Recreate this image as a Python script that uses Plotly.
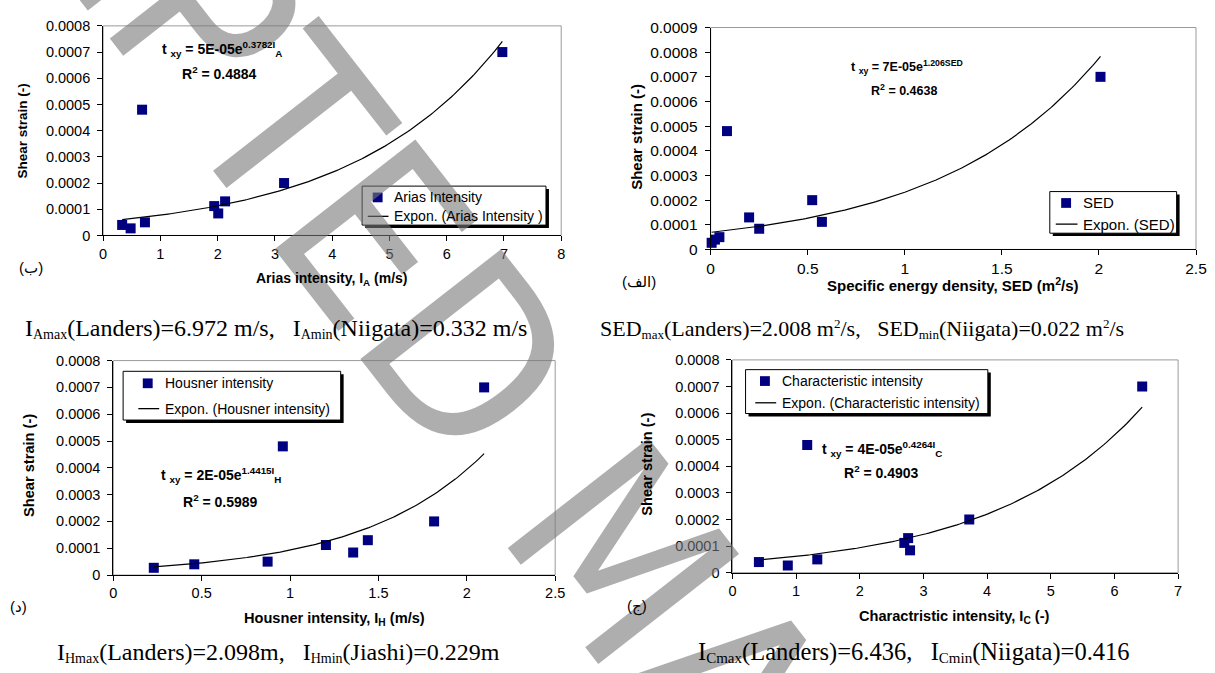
import numpy as np
import plotly.graph_objects as go

W, H = 1215, 673

# Shear strain of the nine records (same record order in every panel)
shear_strain = [4.0e-5, 2.7e-5, 4.8e-4, 5.0e-5, 1.12e-4, 8.4e-5, 1.3e-4, 2.0e-4, 7.0e-4]

# Intensity measures of the same records
arias_intensity = [0.332, 0.48, 0.68, 0.73, 1.94, 2.01, 2.13, 3.16, 6.972]
specific_energy = [0.022, 0.005, 0.084, 0.045, 0.573, 0.25, 0.198, 0.523, 2.008]
housner_intensity = [0.458, 0.229, 0.959, 0.873, 1.203, 1.357, 1.44, 1.815, 2.098]
characteristic_intensity = [0.416, 0.87, 1.175, 1.333, 2.70, 2.79, 2.76, 3.72, 6.436]

# Exponential trend lines  t_xy = a * exp(b * I)
trend_a = [5.3e-5, 6.95e-5, 2.2e-5, 4.0e-5]
trend_b = [0.3782, 1.206, 1.4415, 0.4264]
r_squared = [0.4884, 0.4638, 0.5989, 0.4903]

# Axis scales and labels
x_ranges = [[0, 8], [0, 2.5], [0, 2.5], [0, 7]]
x_dticks = [1, 0.5, 0.5, 1]
y_ranges = [[0, 0.0008], [0, 0.0009], [0, 0.0008], [0, 0.0008]]
x_titles = [
    "Arias intensity, I<sub>A</sub> (m/s)",
    "Specific energy density, SED (m<sup>2</sup>/s)",
    "Housner intensity, I<sub>H</sub> (m/s)",
    "Charactristic intensity, I<sub>C</sub> (-)",
]
y_title = "Shear strain (-)"
series_names = ["Arias Intensity", "SED", "Housner intensity", "Characteristic intensity"]
trend_names = ["Expon. (Arias Intensity )", "Expon. (SED)",
               "Expon. (Housner intensity)", "Expon. (Characteristic intensity)"]
trend_var = ["I", "SED", "I", "I"]
trend_var_sub = ["A", "", "H", "C"]
panel_tags = ["(ب)", "(الف)", "(د)", "(ج)"]

# caption pieces: (text, size-class) where 'm' = main, 'b' = subscript, 'p' = superscript
captions = [
    [("I", "m"), ("Amax", "b"), ("(Landers)=6.972 m/s,\u00a0\u00a0\u00a0I", "m"), ("Amin", "b"),
     ("(Niigata)=0.332 m/s", "m")],
    [("SED", "m"), ("max", "b"), ("(Landers)=2.008 m", "m"), ("2", "p"), ("/s,\u00a0\u00a0\u00a0SED", "m"),
     ("min", "b"), ("(Niigata)=0.022 m", "m"), ("2", "p"), ("/s", "m")],
    [("I", "m"), ("Hmax", "b"), ("(Landers)=2.098m,\u00a0\u00a0\u00a0I", "m"), ("Hmin", "b"),
     ("(Jiashi)=0.229m", "m")],
    [("I", "m"), ("Cmax", "b"), ("(Landers)=6.436,\u00a0\u00a0\u00a0I", "m"), ("Cmin", "b"),
     ("(Niigata)=0.416", "m")],
]
caption_sizes = [24, 22, 24, 24.5]
x_data = [arias_intensity, specific_energy, housner_intensity, characteristic_intensity]

# ---- page geometry (pixels) ----
# plot boxes: left, right, top, bottom
boxes = [(100.3, 563.7, 17.3, 232.3), (714.9, 1205.9, 19.0, 246.7),
         (110.6, 557.6, 360.7, 580.7), (736.9, 1187.8, 360.0, 578.3)]
tick_sizes = [14.5, 15.5, 14.5, 14.5]
ytitle_pos = [(19.1, 124.8, 13.5), (640.0, 131.5, 15), (25.0, 468.0, 14.6), (651.0, 467.0, 14.6)]
xtitle_pos = [(331.6, 276.7, 14), (960.0, 282.5, 15), (334.0, 626.0, 14.6), (962.0, 624.0, 14.6)]
eq_pos = [(157.7, 41.0, 14), (855.0, 59.5, 12.5), (157.0, 478.5, 14), (825.5, 451.0, 14)]
r2_pos = [(218.4, 66.0, 14), (910.5, 83.0, 12.5), (219.0, 505.0, 14), (888.0, 475.5, 14)]
tag_pos = [(27, 265), (642, 280), (15, 613), (640, 613)]
caption_pos = [(19.5, 328), (601, 328), (51.7, 660), (700, 660)]
# legend boxes: left, top, right, bottom, marker centre x, item rows y, line x0, x1, text x, font
legend_geo = [
    (362.3, 181.7, 548.3, 221.7, 378.0, (193.3, 212.7), 368.0, 389.0, 393.0, 14),
    (1058.0, 187.3, 1186.3, 230.0, 1074.5, (199.0, 220.7), 1064.0, 1086.0, 1090.0, 15),
    (120.5, 371.7, 340.6, 421.7, 145.4, (384.0, 410.0), 135.9, 157.0, 160.7, 14),
    (750.2, 370.0, 995.3, 415.0, 769.8, (381.7, 404.0), 760.0, 781.2, 785.5, 14),
]

SANS = "Liberation Sans, Arial, DejaVu Sans, sans-serif"
NARROW = "Liberation Sans Narrow, DejaVu Sans Condensed, Liberation Sans, sans-serif"
SERIF = "Liberation Serif, Times New Roman, serif"
NAVY = "#000080"


def px(x):
    return x / W


def py(y):
    return 1 - y / H


def caption_html(parts, size):
    small = round(size * 0.6)
    out = []
    for txt, kind in parts:
        if kind == "m":
            out.append(txt)
        elif kind == "b":
            out.append('<span style="font-size:%dpx;baseline-shift:-3px">%s</span>' % (small, txt))
        else:
            out.append('<span style="font-size:%dpx;baseline-shift:8px">%s</span>' % (small, txt))
    return "".join(out)


fig = go.Figure()
shapes = []
annotations = []

# large diagonal watermark
annotations.append(dict(
    text="ACCEPTED MANUSCRIPT", x=px(628), y=py(566), xref="paper", yref="paper",
    showarrow=False, textangle=52, xanchor="center", yanchor="middle",
    font=dict(family=NARROW, size=245, color="rgba(120,120,120,0.6)"),
))

layout_axes = {}
for i in range(4):
    sfx = "" if i == 0 else str(i + 1)
    xr, yr = "x" + sfx, "y" + sfx
    left, right, top, bottom = boxes[i]

    # data points
    fig.add_trace(go.Scatter(
        x=x_data[i], y=shear_strain, mode="markers", xaxis=xr, yaxis=yr,
        marker=dict(symbol="square", size=10, color=NAVY, line=dict(width=0)),
        cliponaxis=False, showlegend=False, name=series_names[i],
    ))
    # exponential trend line
    xs = np.linspace(min(x_data[i]), max(x_data[i]), 150)
    fig.add_trace(go.Scatter(
        x=xs, y=trend_a[i] * np.exp(trend_b[i] * xs), mode="lines",
        xaxis=xr, yaxis=yr, line=dict(color="black", width=1.2),
        cliponaxis=False, showlegend=False, name=trend_names[i],
    ))

    common = dict(showline=True, linecolor="black", linewidth=1, ticks="outside",
                  ticklen=5, tickwidth=1, tickcolor="black", showgrid=False,
                  zeroline=False, mirror=False,
                  tickfont=dict(family=SANS, size=tick_sizes[i], color="black"))
    layout_axes["xaxis" + sfx] = dict(
        domain=[px(left), px(right)], range=x_ranges[i], tick0=0, dtick=x_dticks[i],
        anchor=yr, ticklabelstandoff=0, **common)
    layout_axes["yaxis" + sfx] = dict(
        domain=[py(bottom), py(top)], range=y_ranges[i], tick0=0, dtick=0.0001,
        tickformat="~g", anchor=xr, ticklabelstandoff=4, **common)

    # grey plot-area frame
    shapes.append(dict(type="rect", xref=xr + " domain", yref=yr + " domain",
                       x0=0, x1=1, y0=0, y1=1, layer="below",
                       line=dict(color="#9a9a9a", width=1)))

    # axis titles
    tx, ty, ts = ytitle_pos[i]
    annotations.append(dict(text="<b>" + y_title + "</b>", x=px(tx), y=py(ty),
                            xref="paper", yref="paper", showarrow=False, textangle=-90,
                            xanchor="center", yanchor="middle",
                            font=dict(family=SANS, size=ts, color="black")))
    tx, ty, ts = xtitle_pos[i]
    annotations.append(dict(text="<b>" + x_titles[i] + "</b>", x=px(tx), y=py(ty),
                            xref="paper", yref="paper", showarrow=False,
                            xanchor="center", yanchor="middle",
                            font=dict(family=SANS, size=ts, color="black")))

    # trend equation and R²
    sub = "<sub>%s</sub>" % trend_var_sub[i] if trend_var_sub[i] else ""
    eq = "t <sub>xy</sub> = %se<sup>%s%s</sup>%s" % (
        "{:.0E}".format(trend_a[i]), trend_b[i], trend_var[i], sub)
    ex, ey, es = eq_pos[i]
    annotations.append(dict(text="<b>" + eq + "</b>", x=px(ex), y=py(ey),
                            xref="paper", yref="paper", showarrow=False,
                            xanchor="left", yanchor="middle",
                            font=dict(family=SANS, size=es, color="black")))
    rx, ry, rs = r2_pos[i]
    annotations.append(dict(text="<b>R<sup>2</sup> = %.4f</b>" % r_squared[i],
                            x=px(rx), y=py(ry), xref="paper", yref="paper",
                            showarrow=False, xanchor="center", yanchor="middle",
                            font=dict(family=SANS, size=rs, color="black")))

    # panel tag
    gx, gy = tag_pos[i]
    annotations.append(dict(text=panel_tags[i], x=px(gx), y=py(gy), xref="paper",
                            yref="paper", showarrow=False, xanchor="center",
                            yanchor="middle",
                            font=dict(family=SANS, size=15, color="black")))

    # caption under the panel
    cx, cy = caption_pos[i]
    annotations.append(dict(text=caption_html(captions[i], caption_sizes[i]),
                            x=px(cx), y=py(cy), xref="paper",
                            yref="paper", showarrow=False, xanchor="left",
                            yanchor="middle",
                            font=dict(family=SERIF, size=caption_sizes[i], color="black")))

    # legend box with drop shadow
    l0, t0, r0, b0, mx, rows, lx0, lx1, txt_x, lf = legend_geo[i]
    shapes.append(dict(type="rect", xref="paper", yref="paper",
                       x0=px(l0 + 3), x1=px(r0 + 3), y0=py(b0 + 3), y1=py(t0 + 3),
                       fillcolor="black", line=dict(width=0)))
    shapes.append(dict(type="rect", xref="paper", yref="paper",
                       x0=px(l0), x1=px(r0), y0=py(b0), y1=py(t0),
                       fillcolor="white", line=dict(color="black", width=1)))
    shapes.append(dict(type="rect", xref="paper", yref="paper",
                       x0=px(mx - 5), x1=px(mx + 5), y0=py(rows[0] + 5), y1=py(rows[0] - 5),
                       fillcolor=NAVY, line=dict(width=0)))
    shapes.append(dict(type="line", xref="paper", yref="paper",
                       x0=px(lx0), x1=px(lx1), y0=py(rows[1]), y1=py(rows[1]),
                       line=dict(color="black", width=1.3)))
    for row_y, label in zip(rows, (series_names[i], trend_names[i])):
        annotations.append(dict(text=label, x=px(txt_x), y=py(row_y), xref="paper",
                                yref="paper", showarrow=False, xanchor="left",
                                yanchor="middle",
                                font=dict(family=SANS, size=lf, color="black")))

fig.update_layout(
    width=W, height=H, margin=dict(l=0, r=0, t=0, b=0),
    paper_bgcolor="white", plot_bgcolor="white", showlegend=False,
    shapes=shapes, annotations=annotations, **layout_axes,
)

fig.write_html("out.html")
